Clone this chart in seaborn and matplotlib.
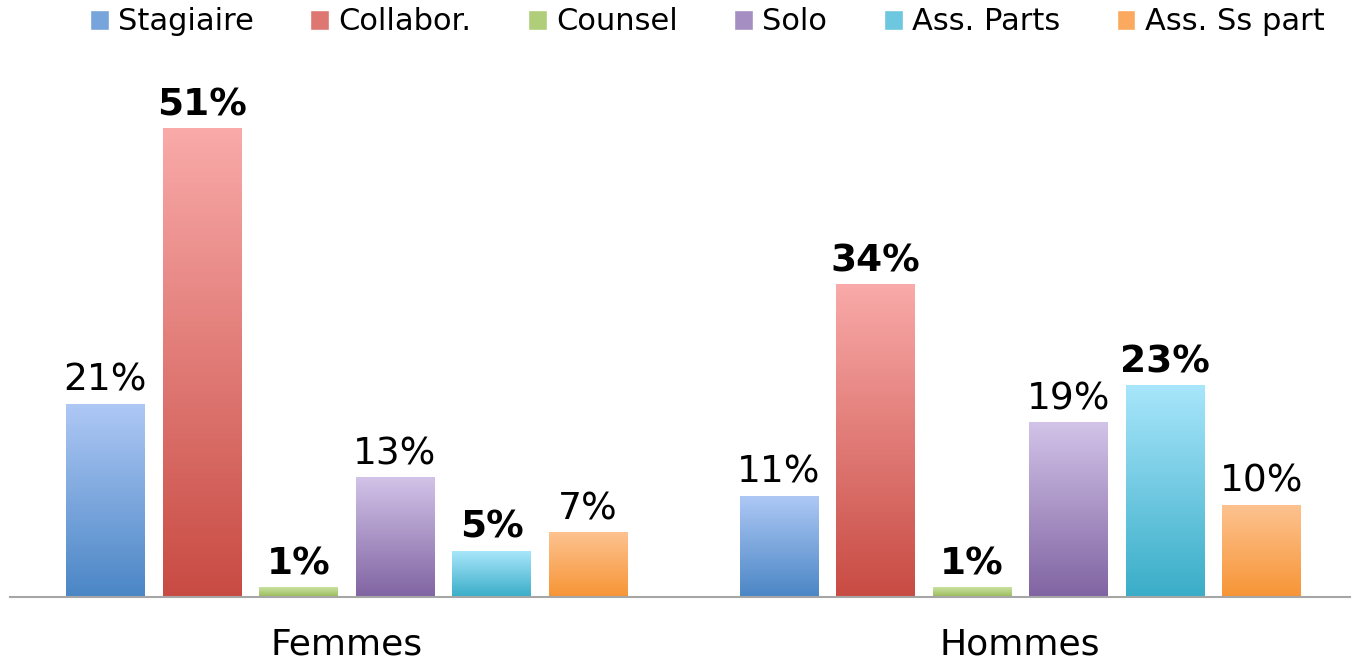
import numpy as np
import pandas as pd
import seaborn as sns
import matplotlib.pyplot as plt
from matplotlib.colors import LinearSegmentedColormap
from matplotlib.patches import Patch

groupes = ['Femmes', 'Hommes']
statuts = ['Stagiaire', 'Collabor.', 'Counsel', 'Solo', 'Ass. Parts', 'Ass. Ss part']
femmes = [21, 51, 1, 13, 5, 7]
hommes = [11, 34, 1, 19, 23, 10]
gras_femmes = [False, True, True, False, True, False]
gras_hommes = [False, True, True, False, True, False]

# light top / dark bottom of each bar's gradient
haut = ['#aec8f5', '#f9aaa9', '#c9e2a0', '#d2c3e8', '#a8e6fb', '#fdc290']
bas = ['#4a86c5', '#c84b43', '#9bbb59', '#8064a2', '#3aadc8', '#f79535']

df = pd.DataFrame({
    'groupe': np.repeat(groupes, len(statuts)),
    'statut': statuts * 2,
    'pct': femmes + hommes,
})
gras = [gras_femmes, gras_hommes]

sns.set_style('white')
plt.rcParams['font.family'] = ['DejaVu Sans']
plt.rcParams['text.color'] = 'black'
plt.rcParams['xtick.color'] = 'black'

fig = plt.figure(figsize=(13.56, 6.6), dpi=100)
ax = fig.add_axes([10 / 1356, 63 / 660, 1340 / 1356, 537 / 660])

sns.barplot(data=df, x='groupe', y='pct', hue='statut', hue_order=statuts,
            palette=bas, width=0.86, gap=0.19, legend=False, ax=ax)

grad = np.linspace(0, 1, 256).reshape(-1, 1)
cmaps = []
for i, cont in enumerate(ax.containers):
    cmap = LinearSegmentedColormap.from_list('g%d' % i, [bas[i], haut[i]])
    cmaps.append(cmap)
    for j, bar in enumerate(cont):
        x, w, h = bar.get_x(), bar.get_width(), bar.get_height()
        ax.imshow(grad, extent=[x, x + w, 0, h], origin='lower', aspect='auto',
                  cmap=cmap, zorder=bar.get_zorder() + 0.1)
        ax.annotate(f'{h:.0f}%', (x + w / 2, h), xytext=(0, 4),
                    textcoords='offset points', ha='center', va='bottom',
                    fontsize=27, color='black',
                    fontweight='bold' if gras[j][i] else 'normal')

ax.set_xlim(-0.5, 1.49)
ax.set_ylim(0, 58.5)
ax.set_xlabel('')
ax.set_ylabel('')
ax.set_yticks([])
ax.tick_params(axis='x', length=0, pad=22, labelsize=26, labelcolor='black')
for s in ['top', 'left', 'right']:
    ax.spines[s].set_visible(False)
ax.spines['bottom'].set_color('#a6a6a6')
ax.spines['bottom'].set_linewidth(1.5)

# legend squares: midpoint of the gradient
handles = [Patch(facecolor=c(0.45)) for c in cmaps]
fig.legend(handles, statuts, loc='center', bbox_to_anchor=(707 / 1356, 1 - 22 / 660),
           ncol=6, frameon=False, fontsize=22, handlelength=0.62, handleheight=0.62,
           handletextpad=0.3, columnspacing=1.85, labelcolor='black')

fig.savefig('out.png', dpi=100)
